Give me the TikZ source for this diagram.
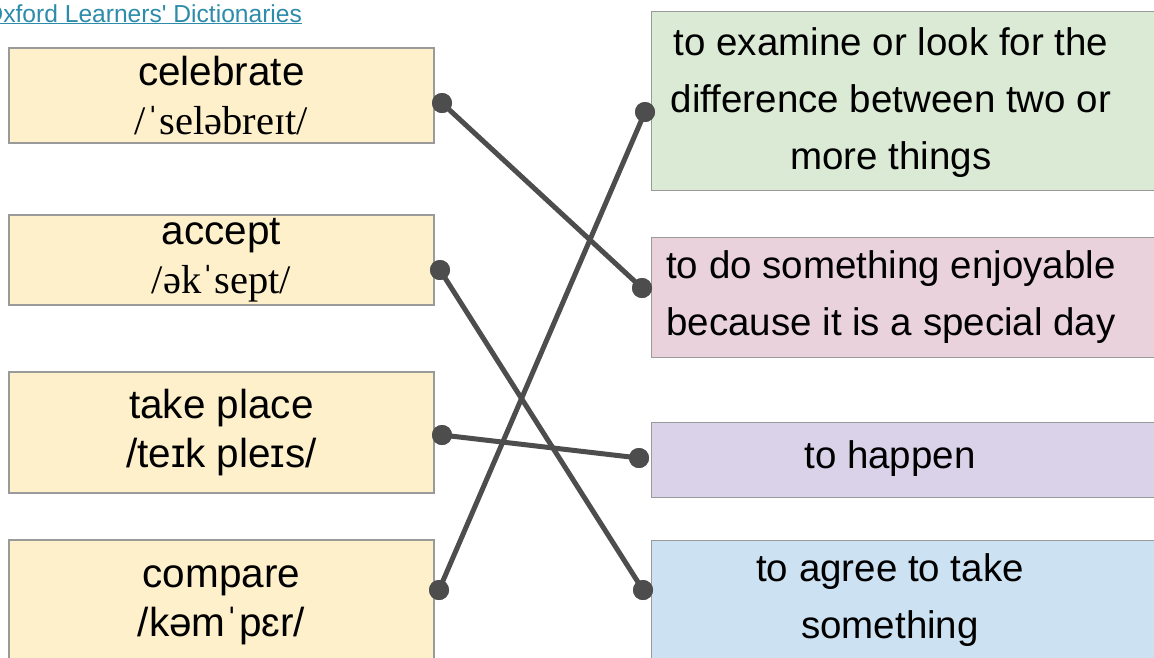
\documentclass[tikz,border=0pt]{standalone}
\usepackage{fontspec}
\setmainfont{Liberation Sans}
\newfontfamily\ipaserif{Liberation Serif}
\definecolor{lyellow}{HTML}{FDF0CA}
\definecolor{lgreen}{HTML}{DAEAD4}
\definecolor{lpink}{HTML}{EAD2DD}
\definecolor{lpurple}{HTML}{D9D2E8}
\definecolor{lblue}{HTML}{CCE1F2}
\definecolor{boxline}{HTML}{9A9A9A}
\definecolor{linkcol}{RGB}{44,140,170}
\definecolor{dotgray}{HTML}{4D4D4D}
\begin{document}
\begin{tikzpicture}[x=1pt,y=-1pt,
  lbox/.style={draw=boxline, fill=lyellow, line width=1.3pt, minimum width=425, inner sep=0, align=center,
    font=\fontsize{40.5}{49}\selectfont},
  rbox/.style={draw=boxline, line width=1.3pt, minimum width=540, inner sep=0},
  rtext/.style={align=center, inner sep=0, font=\fontsize{38.5}{57}\selectfont},
  dotnode/.style={circle, fill=dotgray, minimum size=20, inner sep=0},
  conn/.style={draw=dotgray, line width=5pt}]
\useasboundingbox (0,0) rectangle (1154,657);
\clip (0,0) rectangle (1154,657);
\fill[white] (0,0) rectangle (1154,657);

% link
\node[anchor=base west, inner sep=0, text=linkcol, font=\fontsize{24.6}{28}\selectfont] (link) at (-16,22) {\underline{Oxford Learners\textquotesingle\ Dictionaries}};

% left boxes
\node[lbox, minimum height=95] (cel) at (221.5,95.5) {celebrate\\{\ipaserif /ˈseləbreɪt/}};
\node[lbox, minimum height=90] (acc) at (221.5,260) {accept\\{\ipaserif /əkˈsept/}};
\node[lbox, minimum height=121] (tak) at (221.5,432.5) {take place\\/teɪk pleɪs/};
\node[lbox, minimum height=130] (com) at (221.5,605) {compare\\/kəmˈpɛr/};

% right boxes
\node[rbox, fill=lgreen, minimum height=179, anchor=north west] (grn) at (651,11) {};
\node[rbox, fill=lpink, minimum height=120, anchor=north west] (pnk) at (651,237) {};
\node[rbox, fill=lpurple, minimum height=75, anchor=north west] (pur) at (651,422) {};
\node[rbox, fill=lblue, minimum height=130, anchor=north west] (blu) at (651,540) {};

\node[rtext] (grnt) at (891,103) {to examine or look for the\\difference between two or\\more things};
\node[rtext] (pnkt) at (891,297) {to do something enjoyable\\because it is a special day};
\node[rtext] (purt) at (890,459) {to happen};
\node[rtext] (blut) at (890,600) {to agree to take\\something};

% dots
\node[dotnode] (dcel) at (442,103) {};
\node[dotnode] (dacc) at (440,270) {};
\node[dotnode] (dtak) at (442,435) {};
\node[dotnode] (dcom) at (439,590) {};
\node[dotnode] (dgrn) at (645,112) {};
\node[dotnode] (dpnk) at (642,288) {};
\node[dotnode] (dpur) at (639,458) {};
\node[dotnode] (dblu) at (643,590) {};

% connectors
\draw[conn] (dcel.center) -- (dpnk.center);
\draw[conn] (dacc.center) -- (dblu.center);
\draw[conn] (dtak.center) -- (dpur.center);
\draw[conn] (dcom.center) -- (dgrn.center);

% redraw dots on top
\foreach \d in {dcel,dacc,dtak,dcom,dgrn,dpnk,dpur,dblu}
  \fill[dotgray] (\d.center) circle (10);
\end{tikzpicture}
\end{document}
